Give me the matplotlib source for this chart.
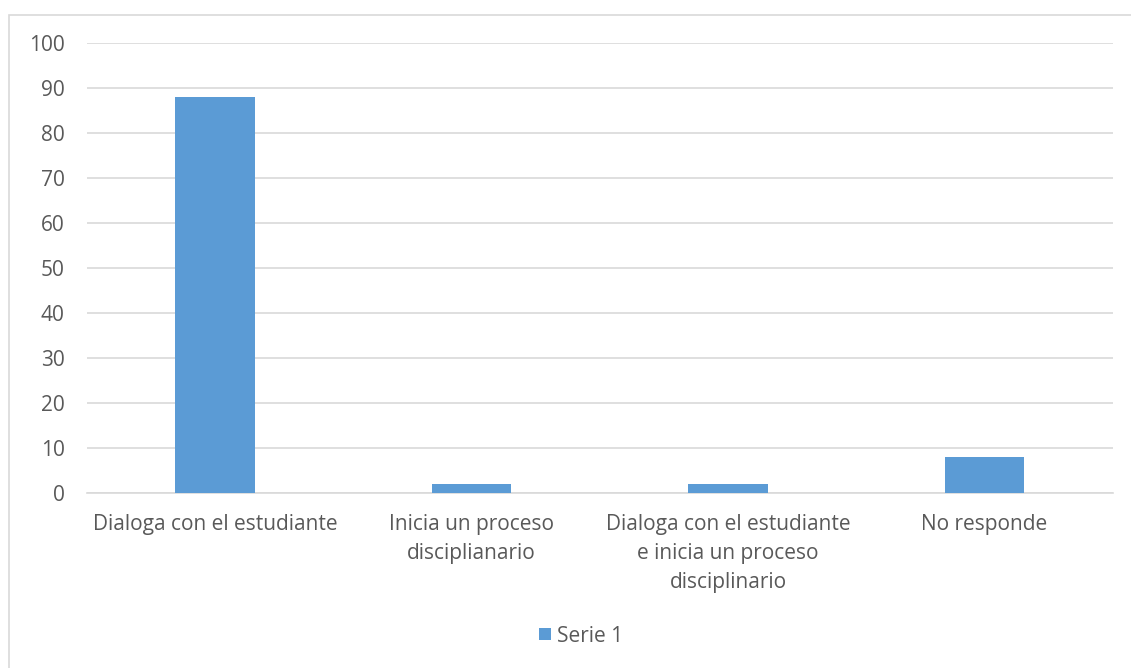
import matplotlib.pyplot as plt
from matplotlib.patches import Rectangle

plt.rcParams['font.family'] = ['Open Sans', 'DejaVu Sans']

categories = ['Dialoga con el estudiante',
              'Inicia un proceso\ndisciplianario',
              'Dialoga con el estudiante\ne inicia un proceso\ndisciplinario',
              'No responde']
serie1 = [88, 2, 2, 8]
yticks = list(range(0, 101, 10))

text_color = '#595959'
bar_color = '#5b9bd5'
grid_color = '#d9d9d9'

fig = plt.figure(figsize=(11.31, 6.68), dpi=100)
ax = fig.add_axes([0.0769, 0.262, 0.907, 0.6736])

x = range(len(categories))
ax.bar(x, serie1, width=0.31, color=bar_color, label='Serie 1', zorder=3)

ax.set_xlim(-0.5, len(categories) - 0.5)
ax.set_ylim(0, 100)
ax.set_yticks(yticks)
ax.set_xticks(list(x))
ax.set_xticklabels(categories, fontsize=15, color=text_color, linespacing=1.5)
ax.tick_params(axis='y', labelsize=15, labelcolor=text_color, length=0, pad=16)
ax.tick_params(axis='x', length=0, pad=15)

ax.grid(axis='y', color=grid_color, linewidth=1.2, zorder=0)
for side in ['top', 'right', 'left']:
    ax.spines[side].set_visible(False)
ax.spines['bottom'].set_color(grid_color)
ax.spines['bottom'].set_linewidth(1.2)

# chart frame
fig.patches.append(Rectangle((9 / 1131, -0.01), 1.1, 1 - 15 / 668 + 0.01,
                             transform=fig.transFigure, fill=False,
                             edgecolor=grid_color, linewidth=1.2))

fig.legend(loc='center', bbox_to_anchor=(0.514, 1 - 636 / 668), frameon=False,
           fontsize=15, labelcolor=text_color, handlelength=0.55,
           handleheight=0.55, handletextpad=0.3)

fig.savefig('out.png', dpi=100)
